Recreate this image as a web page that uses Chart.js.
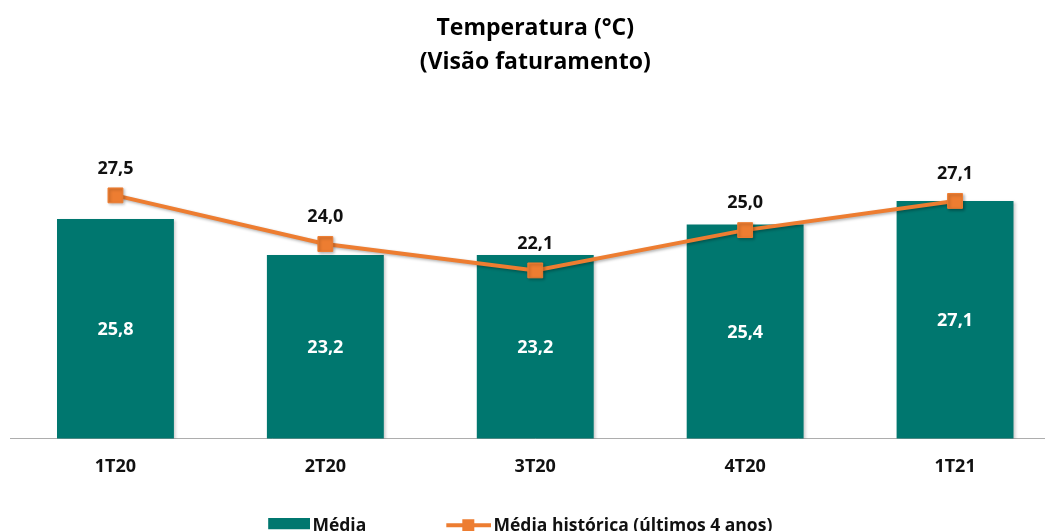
<!DOCTYPE html>
<html lang="pt-BR">
<head>
<meta charset="utf-8">
<title>Temperatura (°C)</title>
<script src="https://cdn.jsdelivr.net/npm/chart.js@4/dist/chart.umd.min.js"></script>
<style>
  html, body { margin: 0; padding: 0; background: #ffffff; overflow: hidden; }
  #wrap { position: relative; width: 1045px; height: 531px; overflow: hidden; }
  #chart { position: absolute; left: -64px; top: 0; }
</style>
</head>
<body>
<div id="wrap"><canvas id="chart" width="1124" height="545"></canvas></div>
<script>
// Trimestres
const categories = ['1T20', '2T20', '3T20', '4T20', '1T21'];
// Temperatura média do trimestre (°C)
const mediaValues = [25.8, 23.2, 23.2, 25.4, 27.1];
// Média histórica dos últimos 4 anos (°C)
const historicaValues = [27.5, 24.0, 22.1, 25.0, 27.1];
const seriesNames = ['Média', 'Média histórica (últimos 4 anos)'];
const titleLines = ['Temperatura (°C)', '(Visão faturamento)'];

const TEAL = '#00776F';
const ORANGE = '#ED7D31';
const INK = '#111111';
const FONT = '"Open Sans", "Noto Sans", sans-serif';

const fmt = v => v.toFixed(1).replace('.', ',');

// Legend symbols, drawn at the right end of a wide transparent box so they sit
// next to their text: a filled block for the bars, a line with a square marker for the line
const SWATCH_W = 93;
function swatch(draw) {
  const c = document.createElement('canvas');
  c.width = SWATCH_W;
  c.height = 16;
  draw(c.getContext('2d'));
  return c;
}
const barSwatch = swatch(g => {
  g.fillStyle = TEAL;
  g.fillRect(SWATCH_W - 42, 0, 42, 11);
});
const lineSwatch = swatch(g => {
  g.fillStyle = ORANGE;
  g.fillRect(SWATCH_W - 45, 5, 45, 4);
  g.fillRect(SWATCH_W - 29, 1, 12, 12);
});

// Soft drop shadow under the bars and the line
const softShadow = {
  id: 'softShadow',
  beforeDatasetDraw(chart, args) {
    const ctx = chart.ctx;
    ctx.save();
    if (args.meta.type === 'bar') {
      ctx.shadowColor = 'rgba(0, 0, 0, 0.22)';
      ctx.shadowBlur = 3;
      ctx.shadowOffsetX = 2;
      ctx.shadowOffsetY = 1;
    } else {
      ctx.shadowColor = 'rgba(0, 0, 0, 0.3)';
      ctx.shadowBlur = 3;
      ctx.shadowOffsetX = 1.5;
      ctx.shadowOffsetY = 1.5;
    }
  },
  afterDatasetDraw(chart) {
    chart.ctx.restore();
  }
};

// Value labels: centred inside the bars, above the line markers
const valueLabels = {
  id: 'valueLabels',
  afterDatasetsDraw(chart) {
    const ctx = chart.ctx;
    const bottom = chart.chartArea.bottom;
    ctx.save();
    ctx.font = 'bold 18px ' + FONT;
    ctx.textAlign = 'center';
    ctx.textBaseline = 'middle';
    chart.data.datasets.forEach((ds, i) => {
      const meta = chart.getDatasetMeta(i);
      meta.data.forEach((el, j) => {
        const text = fmt(ds.data[j]);
        if (meta.type === 'bar') {
          const base = Math.min(el.base, bottom);
          ctx.fillStyle = '#ffffff';
          ctx.fillText(text, el.x, (el.y + base) / 2 + 1);
        } else {
          ctx.fillStyle = INK;
          ctx.fillText(text, el.x, el.y - 27);
        }
      });
    });
    ctx.restore();
  }
};

new Chart(document.getElementById('chart'), {
  data: {
    labels: categories,
    datasets: [
      {
        type: 'bar',
        label: seriesNames[0],
        data: mediaValues,
        backgroundColor: TEAL,
        borderWidth: 0,
        categoryPercentage: 1,
        barPercentage: 0.557,
        order: 2
      },
      {
        type: 'line',
        label: seriesNames[1],
        data: historicaValues,
        borderColor: ORANGE,
        backgroundColor: ORANGE,
        borderWidth: 4,
        tension: 0,
        pointStyle: 'rect',
        pointRadius: 10.5,
        pointBorderWidth: 1,
        pointBorderColor: ORANGE,
        pointBackgroundColor: ORANGE,
        order: 1
      }
    ]
  },
  options: {
    responsive: false,
    devicePixelRatio: 1,
    animation: false,
    layout: { padding: 0, autoPadding: false },
    scales: {
      x: {
        type: 'category',
        offset: true,
        grid: { display: false, drawTicks: false },
        border: { display: true, color: '#ADADAD', width: 1 },
        ticks: {
          padding: 18.5,
          color: INK,
          font: { family: FONT, size: 18, weight: 'bold', lineHeight: 1.1 }
        },
        afterFit(scale) { scale.height = 40.5; }
      },
      y: {
        display: true,
        min: 10,
        max: 31,
        grid: { display: false, drawTicks: false },
        border: { display: false },
        ticks: { display: false },
        afterFit(scale) { scale.width = 74.5; }
      }
    },
    plugins: {
      title: {
        display: true,
        fullSize: false,
        text: titleLines,
        color: '#000000',
        font: { family: FONT, size: 23, weight: 'bold', lineHeight: 1.5 },
        padding: { top: 11, bottom: 66.75 }
      },
      legend: {
        display: true,
        position: 'bottom',
        align: 'center',
        labels: {
          usePointStyle: true,
          pointStyleWidth: 80,
          padding: 38.5,
          color: INK,
          font: { family: FONT, size: 17.5, weight: 'bold' },
          generateLabels(chart) {
            return chart.data.datasets.map((ds, i) => ({
              text: ds.label,
              datasetIndex: i,
              hidden: false,
              fontColor: INK,
              fillStyle: ds.backgroundColor,
              strokeStyle: ds.backgroundColor,
              lineWidth: 0,
              pointStyle: ds.type === 'bar' ? barSwatch : lineSwatch
            }));
          }
        }
      },
      tooltip: { enabled: false }
    }
  },
  plugins: [softShadow, valueLabels]
});
</script>
</body>
</html>
